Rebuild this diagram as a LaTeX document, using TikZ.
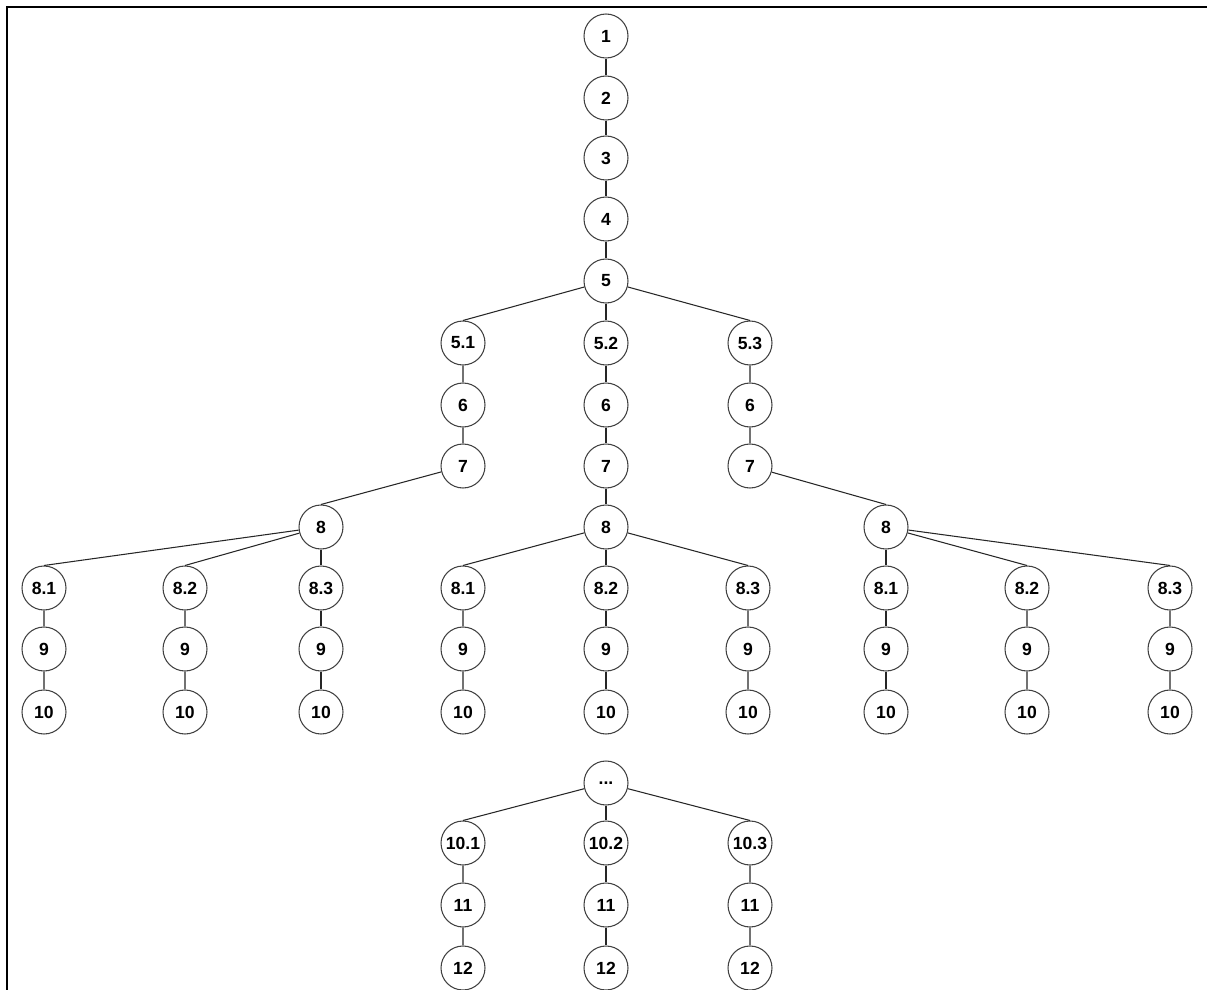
\documentclass[tikz,border=0pt]{standalone}
\usepackage{fontspec}
\setmainfont{Liberation Sans}

\begin{document}
\begin{tikzpicture}[x=0.02cm, y=-0.02cm]
        \tikzset{vert/.style={circle, draw=black!75, line width=0.6pt, minimum size=0.88cm, inner sep=0pt, font=\fontsize{10}{12}\selectfont\bfseries}}
        \tikzset{edge/.style={line width=0.6pt, black!85}}

        \useasboundingbox (0,0) rectangle (1207,990);
        \draw[line width=1.1pt] (7,990) -- (7,7) -- (1207,7);

        % spine
        \node[vert] (n1) at (606,36) {1};
        \node[vert] (n2) at (606,98) {2};
        \node[vert] (n3) at (606,158) {3};
        \node[vert] (n4) at (606,219) {4};
        \node[vert] (n5) at (606,281) {5};
        \draw[edge] (n1) -- (n2) (n2) -- (n3) (n3) -- (n4) (n4) -- (n5);

        % three branches of 5
        \foreach \c/\x/\k/\y in {a/463/1/321, b/606/2/606, c/750/3/886} {
            \node[vert] (\c5) at (\x,343) {5.\k};
            \node[vert] (\c6) at (\x,405) {6};
            \node[vert] (\c7) at (\x,466) {7};
            \node[vert] (\c8) at (\y,527) {8};
            \draw[edge] (n5) -- (\c5.north) (\c5) -- (\c6) (\c6) -- (\c7) (\c7) -- (\c8.north);
        }

        % leaves under each 8
        \foreach \c/\xa/\xb/\xc in {a/44/185/321, b/463/606/748, c/886/1027/1170} {
            \foreach \k/\xx in {1/\xa, 2/\xb, 3/\xc} {
                \node[vert] (\c8\k) at (\xx,588) {8.\k};
                \node[vert] (\c9\k) at (\xx,649) {9};
                \node[vert] (\c10\k) at (\xx,712) {10};
                \draw[edge] (\c8) -- (\c8\k.north) (\c8\k) -- (\c9\k) (\c9\k) -- (\c10\k);
            }
        }

        % continuation
        \node[vert] (dots) at (606,783) {...};
        \foreach \k/\x in {1/463, 2/606, 3/750} {
            \node[vert] (t10\k) at (\x,843) {10.\k};
            \node[vert] (t11\k) at (\x,905) {11};
            \node[vert] (t12\k) at (\x,968) {12};
            \draw[edge] (dots) -- (t10\k.north) (t10\k) -- (t11\k) (t11\k) -- (t12\k);
        }

    \end{tikzpicture}
\end{document}
